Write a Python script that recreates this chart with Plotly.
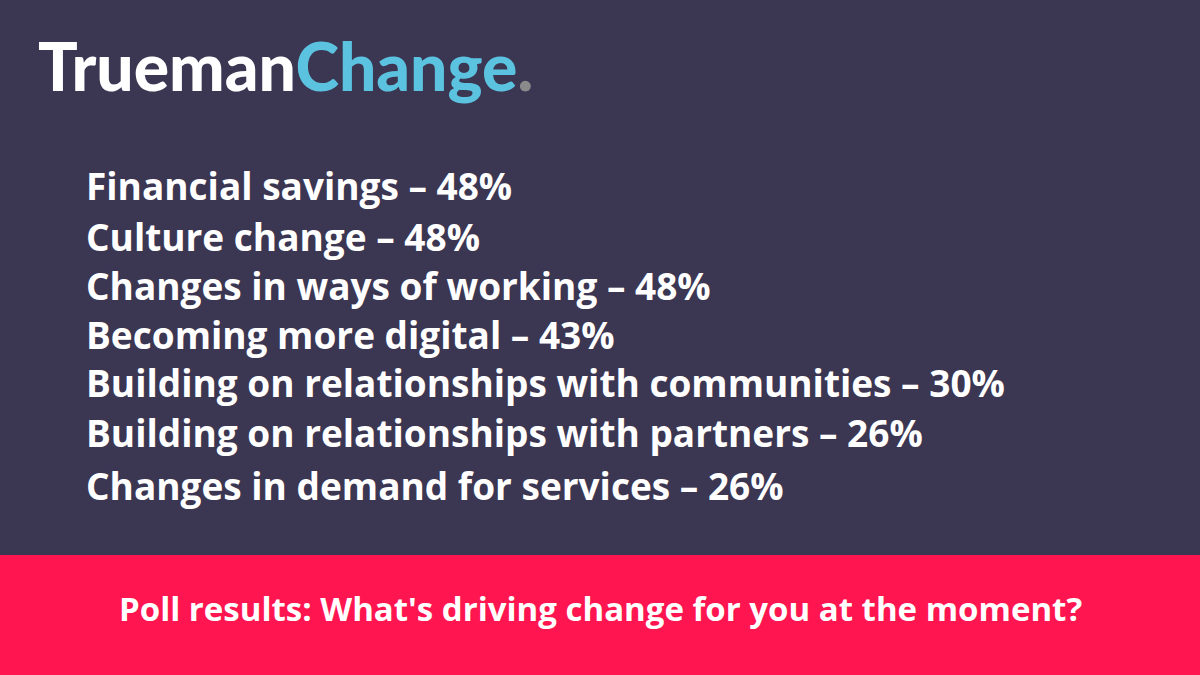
import plotly.graph_objects as go

categories = ["Financial savings", "Culture change", "Changes in ways of working",
              "Becoming more digital", "Building on relationships with communities",
              "Building on relationships with partners", "Changes in demand for services"]
values = [48, 48, 48, 43, 30, 26, 26]
title = "Poll results: What's driving change for you at the moment?"

W, H = 1200, 675
def px(x): return x / W
def py(y): return 1 - y / H

fig = go.Figure()
fig.add_shape(type="rect", xref="paper", yref="paper", x0=0, x1=1, y0=0, y1=py(555),
              fillcolor="#ff1650", line_width=0, layer="below")

fig.add_annotation(xref="paper", yref="paper", x=px(36), y=py(66), xanchor="left", yanchor="middle",
                   showarrow=False,
                   text="<span style='color:#ffffff'>Trueman</span><span style='color:#5bc3e0'>Change</span><span style='color:#8a8a8a'>.</span>",
                   font=dict(family="Lato", size=66, color="#ffffff", weight=900))

ys = [185, 236, 285, 334, 382, 433, 485]
for c, v, y in zip(categories, values, ys):
    fig.add_annotation(xref="paper", yref="paper", x=px(84), y=py(y), xanchor="left", yanchor="middle",
                       showarrow=False, text=f"{c} – {v}%",
                       font=dict(family="Open Sans", size=37, color="#ffffff", weight="bold"))

fig.add_annotation(xref="paper", yref="paper", x=0.5, y=py(608), xanchor="center", yanchor="middle",
                   showarrow=False, text=title,
                   font=dict(family="Open Sans", size=33, color="#ffffff", weight="bold"))

fig.update_layout(width=W, height=H, margin=dict(l=0, r=0, t=0, b=0),
                  paper_bgcolor="#3b3652", plot_bgcolor="#3b3652",
                  xaxis=dict(visible=False), yaxis=dict(visible=False), showlegend=False)
fig.write_html("out.html", config={"displayModeBar": False})
with open("out.html", encoding="utf-8") as f:
    html = f.read()
html = html.replace("<body>", "<body style=\"margin:0;padding:0;overflow:hidden\">", 1)
with open("out.html", "w", encoding="utf-8") as f:
    f.write(html)
